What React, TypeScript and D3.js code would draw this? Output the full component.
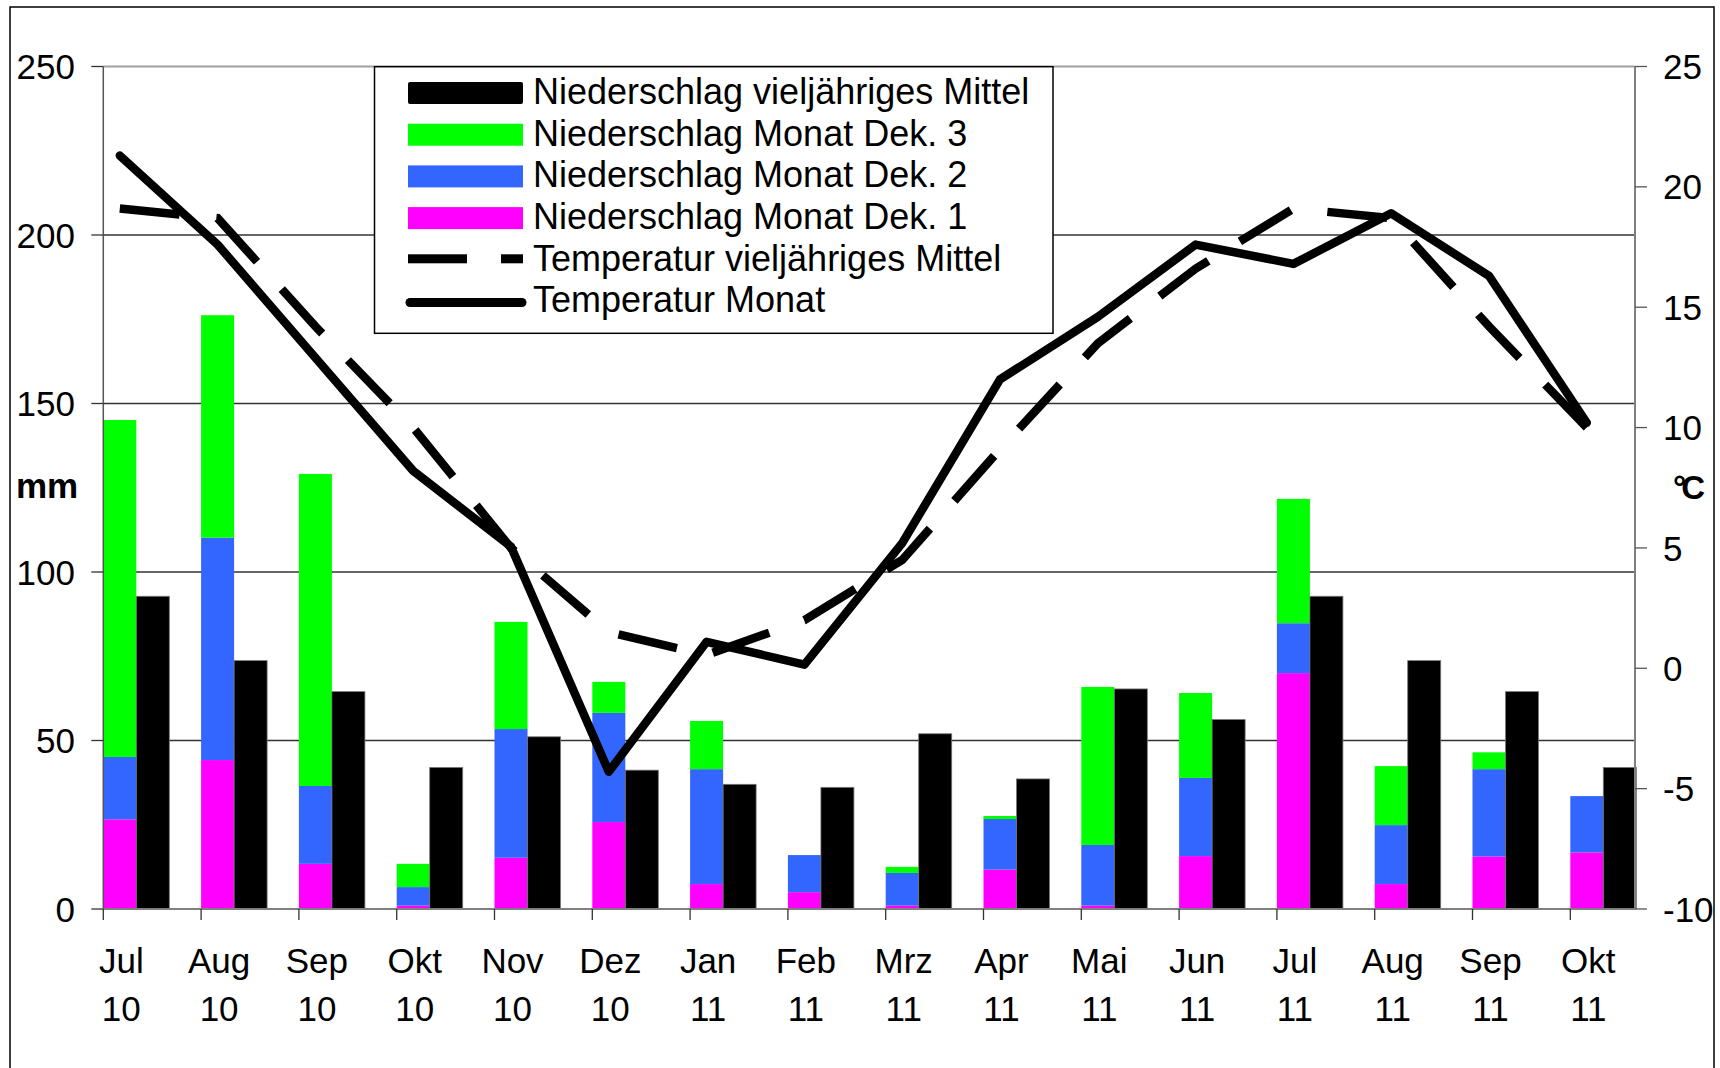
import React from "react";
import * as d3 from "d3";

// Monate Jul 2010 - Okt 2011
const months = ["Jul", "Aug", "Sep", "Okt", "Nov", "Dez", "Jan", "Feb", "Mrz", "Apr", "Mai", "Jun", "Jul", "Aug", "Sep", "Okt"];
const years = ["10", "10", "10", "10", "10", "10", "11", "11", "11", "11", "11", "11", "11", "11", "11", "11"];

// Niederschlag je Dekade (mm)
const dek1 = [26.6, 44.2, 13.4, 1.0, 15.2, 25.8, 7.4, 5.0, 1.0, 11.7, 1.0, 15.7, 70.0, 7.4, 15.6, 16.8];
const dek2 = [18.5, 66.0, 23.1, 5.5, 38.2, 32.4, 34.1, 11.0, 9.7, 15.0, 18.0, 23.2, 14.8, 17.5, 25.9, 16.7];
const dek3 = [100.0, 66.0, 92.6, 6.9, 31.8, 9.2, 14.3, 0, 1.8, 0.9, 46.9, 25.2, 36.9, 17.5, 5.0, 0];
const precipMean = [92.8, 73.7, 64.5, 42.0, 51.1, 41.2, 37.0, 36.1, 52.0, 38.6, 65.3, 56.2, 92.8, 73.7, 64.5, 42.0];

// Temperatur (°C)
const tempMonth = [21.3, 17.6, 12.9, 8.2, 5.05, -4.3, 1.1, 0.15, 5.2, 12.0, 14.6, 17.6, 16.8, 18.9, 16.3, 10.2];
const tempMean = [19.1, 18.7, 14.2, 10.0, 5.0, 1.5, 0.55, 2.0, 4.5, 9.1, 13.5, 16.6, 19.1, 18.7, 14.2, 10.0];

const mmTicks = [0, 50, 100, 150, 200, 250];
const tempTicks = [-10, -5, 0, 5, 10, 15, 20, 25];

const legendItems = [
  { label: "Niederschlag vieljähriges Mittel", kind: "rect", color: "#000000" },
  { label: "Niederschlag Monat Dek. 3", kind: "rect", color: "#00ff00" },
  { label: "Niederschlag Monat Dek. 2", kind: "rect", color: "#3366ff" },
  { label: "Niederschlag Monat Dek. 1", kind: "rect", color: "#ff00ff" },
  { label: "Temperatur vieljähriges Mittel", kind: "dash", color: "#000000" },
  { label: "Temperatur Monat", kind: "line", color: "#000000" },
];

const W = 1720;
const H = 1068;
const plotLeft = 103.3;
const plotRight = 1635;
const plotTop = 66.5;
const plotBottom = 909;
const step = 97.8;
const font = "'Liberation Sans', Arial, Helvetica, sans-serif";

export default function App() {
  const idx = months.map((_, i) => String(i));
  const x = d3
    .scaleBand()
    .domain(idx)
    .range([plotLeft, plotLeft + step * months.length])
    .paddingInner(0)
    .paddingOuter(0);
  const barW = x.bandwidth() * 0.3375;
  const yP = d3.scaleLinear().domain([0, 250]).range([plotBottom, plotTop]);
  const yT = d3.scaleLinear().domain([-10, 25]).range([plotBottom, plotTop]);

  const rows = months.map((_, i) => ({ i: String(i), d1: dek1[i], d2: dek2[i], d3: dek3[i] }));
  const series = d3.stack<any>().keys(["d1", "d2", "d3"])(rows);
  const colors: Record<string, string> = { d1: "#ff00ff", d2: "#3366ff", d3: "#00ff00" };

  const cx = (i: number) => (x(String(i)) as number) + barW / 2;
  const line = d3
    .line<number>()
    .x((_, i) => cx(i))
    .y((d) => yT(d));

  // Legende
  const lgX = 374.5;
  const lgY = 66.7;
  const lgW = 678.5;
  const lgH = 266.6;
  const rowY = (k: number) => 91 + 41.7 * k;

  return (
    <div style={{ position: "fixed", left: 0, top: 0, width: W, height: H, overflow: "hidden", background: "#fff" }}>
      <svg width={W} height={H} style={{ display: "block", fontFamily: font }}>
        <rect x={0} y={0} width={W} height={H} fill="#fff" />
        {/* Rahmen */}
        <rect x={10} y={7} width={1704} height={H + 20} fill="none" stroke="#000" strokeWidth={1.5} />

        {/* Gitterlinien */}
        {mmTicks
          .filter((t) => t > 0)
          .map((t) => (
            <line
              key={"g" + t}
              x1={plotLeft}
              x2={plotRight}
              y1={yP(t)}
              y2={yP(t)}
              stroke={t === 250 ? "#a0a0a0" : "#333"}
              strokeWidth={t === 250 ? 2 : 1.3}
            />
          ))}

        {/* Balken Dekaden */}
        {series.map((s) => (
          <g key={s.key} fill={colors[s.key]}>
            {s.map((d, i) =>
              d[1] - d[0] > 0 ? (
                <rect
                  key={i}
                  x={x(String(i)) as number}
                  y={yP(d[1])}
                  width={barW}
                  height={yP(d[0]) - yP(d[1])}
                />
              ) : null,
            )}
          </g>
        ))}

        {/* Balken vieljähriges Mittel */}
        {precipMean.map((v, i) => (
          <rect
            key={"m" + i}
            x={(x(String(i)) as number) + barW}
            y={yP(v)}
            width={barW}
            height={yP(0) - yP(v)}
            fill="#000"
            stroke="#777"
            strokeWidth={0.8}
          />
        ))}

        {/* Achsen */}
        <line x1={plotLeft} x2={plotLeft} y1={plotTop} y2={plotBottom} stroke="#555" strokeWidth={1.5} />
        <line x1={plotRight} x2={plotRight} y1={plotTop} y2={plotBottom} stroke="#808080" strokeWidth={2} />
        <line x1={plotLeft} x2={plotRight} y1={plotBottom} y2={plotBottom} stroke="#808080" strokeWidth={2} />

        {mmTicks.map((t) => (
          <g key={"l" + t}>
            <line x1={plotLeft - 12} x2={plotLeft} y1={yP(t)} y2={yP(t)} stroke="#333" strokeWidth={1.3} />
            <text x={75} y={yP(t)} dy="0.36em" textAnchor="end" fontSize={35} fill="#000">
              {t}
            </text>
          </g>
        ))}
        {tempTicks.map((t) => (
          <g key={"r" + t}>
            <line x1={plotRight} x2={plotRight + 12} y1={yT(t)} y2={yT(t)} stroke="#555" strokeWidth={1.3} />
            <text x={1663} y={yT(t)} dy="0.36em" textAnchor="start" fontSize={35} fill="#000">
              {t}
            </text>
          </g>
        ))}

        {months.map((m, i) => (
          <g key={"c" + i}>
            <line
              x1={x(String(i)) as number}
              x2={x(String(i)) as number}
              y1={plotBottom}
              y2={plotBottom + 11}
              stroke="#333"
              strokeWidth={1.3}
            />
            <text x={(x(String(i)) as number) + 18} y={973} textAnchor="middle" fontSize={35} fill="#000">
              {m}
            </text>
            <text x={(x(String(i)) as number) + 18} y={1020.5} textAnchor="middle" fontSize={35} fill="#000">
              {years[i]}
            </text>
          </g>
        ))}

        <text x={16} y={498} fontSize={35} fontWeight="bold" fill="#000">
          mm
        </text>
        <text x={1673} y={499} fontSize={33} fontWeight="bold" fill="#000" letterSpacing={-5}>
          °C
        </text>

        {/* Temperaturlinien */}
        <path
          d={line(tempMean) as string}
          fill="none"
          stroke="#000"
          strokeWidth={8.5}
          strokeDasharray="60,37"
          strokeLinejoin="miter"
        />
        <path
          d={line(tempMonth) as string}
          fill="none"
          stroke="#000"
          strokeWidth={8.5}
          strokeLinejoin="round"
          strokeLinecap="round"
        />

        {/* Legende */}
        <rect x={lgX} y={lgY} width={lgW} height={lgH} fill="#fff" stroke="#000" strokeWidth={1.5} />
        {legendItems.map((it, k) => (
          <g key={"lg" + k}>
            {it.kind === "rect" && (
              <rect x={408} y={rowY(k) - 9} width={115} height={22} fill={it.color} rx={k === 0 ? 2 : 0} />
            )}
            {it.kind === "dash" && (
              <g fill="#000">
                <rect x={408} y={rowY(k) - 3.5} width={59} height={9} />
                <rect x={501} y={rowY(k) - 3.5} width={22} height={9} />
              </g>
            )}
            {it.kind === "line" && (
              <line
                x1={410}
                x2={522}
                y1={rowY(k) + 3}
                y2={rowY(k) + 3}
                stroke="#000"
                strokeWidth={9}
                strokeLinecap="round"
              />
            )}
            <text x={533} y={rowY(k)} dy="0.36em" fontSize={36} fill="#000">
              {it.label}
            </text>
          </g>
        ))}
      </svg>
    </div>
  );
}
